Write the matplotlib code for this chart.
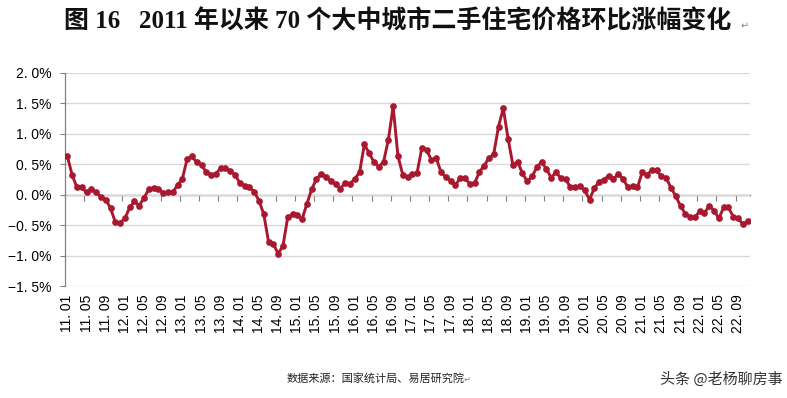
import matplotlib
matplotlib.use("Agg")
import matplotlib.pyplot as plt
import numpy as np

# ---- data -------------------------------------------------------------
mom_change = [
    0.63, 0.32, 0.12, 0.12, 0.04, 0.09, 0.04, -0.04, -0.08, -0.22, -0.45, -0.46,
    -0.39, -0.21, -0.11, -0.18, -0.05, 0.09, 0.11, 0.10, 0.03, 0.04, 0.04, 0.16,
    0.26, 0.59, 0.63, 0.53, 0.49, 0.37, 0.33, 0.34, 0.44, 0.44, 0.39, 0.33,
    0.19, 0.15, 0.12, 0.05, -0.10, -0.32, -0.78, -0.81, -0.97, -0.84, -0.37, -0.32,
    -0.34, -0.40, -0.15, 0.09, 0.26, 0.34, 0.29, 0.23, 0.18, 0.10, 0.20, 0.18,
    0.26, 0.37, 0.83, 0.68, 0.54, 0.46, 0.54, 0.90, 1.45, 0.64, 0.33, 0.29,
    0.34, 0.36, 0.77, 0.73, 0.57, 0.60, 0.37, 0.29, 0.23, 0.16, 0.27, 0.27,
    0.18, 0.19, 0.37, 0.48, 0.60, 0.67, 1.12, 1.42, 0.92, 0.49, 0.54, 0.35,
    0.22, 0.30, 0.45, 0.54, 0.42, 0.28, 0.37, 0.27, 0.26, 0.12, 0.12, 0.15,
    0.07, -0.08, 0.11, 0.21, 0.25, 0.31, 0.26, 0.34, 0.26, 0.12, 0.14, 0.12,
    0.37, 0.33, 0.40, 0.40, 0.30, 0.28, 0.11, -0.02, -0.19, -0.31, -0.37, -0.37,
    -0.27, -0.30, -0.18, -0.26, -0.39, -0.21, -0.21, -0.36, -0.39, -0.48, -0.44,
]

x_tick_labels = [
    "11. 01", "11. 05", "11. 09", "12. 01", "12. 05", "12. 09",
    "13. 01", "13. 05", "13. 09", "14. 01", "14. 05", "14. 09",
    "15. 01", "15. 05", "15. 09", "16. 01", "16. 05", "16. 09",
    "17. 01", "17. 05", "17. 09", "18. 01", "18. 05", "18. 09",
    "19. 01", "19. 05", "19. 09", "20. 01", "20. 05", "20. 09",
    "21. 01", "21. 05", "21. 09", "22. 01", "22. 05", "22. 09",
]
y_ticks = [-1.5, -1.0, -0.5, 0.0, 0.5, 1.0, 1.5, 2.0]
y_tick_labels = ["−1. 5%", "−1. 0%", "−0. 5%", "0. 0%", "0. 5%", "1. 0%", "1. 5%", "2. 0%"]

title = "图 16   2011 年以来 70 个大中城市二手住宅价格环比涨幅变化"
source = "数据来源：国家统计局、易居研究院"
watermark = "头条 @老杨聊房事"

# ---- figure -----------------------------------------------------------
W, H = 787, 398
fig = plt.figure(figsize=(W / 100, H / 100), dpi=100)
fig.patch.set_facecolor("white")

left, right, top, bottom = 65, 750, 73, 286
ax = fig.add_axes([left / W, 1 - bottom / H, (right - left) / W, (bottom - top) / H])

n = len(mom_change)
x = np.arange(n)
line_color = "#A8182F"
ax.plot(x, mom_change, color=line_color, lw=2.1, marker="o", ms=3.8,
        mec=line_color, mfc=line_color, zorder=4, solid_joinstyle="round")

ax.set_xlim(-0.5, n - 0.5)
ax.set_ylim(-1.5, 2.0)

# y axis
ax.set_yticks(y_ticks)
ax.set_yticklabels(y_tick_labels, family=["Liberation Sans", "DejaVu Sans"], fontsize=10)
ax.tick_params(axis="y", direction="out", length=3.5, width=0.8, color="#808080", pad=6)
ax.yaxis.grid(True, color="#D9D9D9", lw=1.0)
ax.set_axisbelow(True)

# x tick labels at bottom (positions every 4 months)
ax.set_xticks(x[::4])
ax.set_xticklabels(x_tick_labels, rotation=90, family=["Liberation Sans", "DejaVu Sans"],
                   fontsize=10, va="top")
ax.tick_params(axis="x", length=0, pad=6)

for s in ["top", "right", "bottom"]:
    ax.spines[s].set_visible(False)
ax.spines["left"].set_color("#808080")
ax.spines["left"].set_linewidth(0.9)

# zero axis line with tick marks between categories
zero_frac = (0 - (-1.5)) / (2.0 - (-1.5))
sec = ax.secondary_xaxis(zero_frac)
sec.set_xticks(np.arange(3.5, n - 0.5, 4))
sec.set_xticklabels([])
sec.tick_params(axis="x", direction="out", length=4, width=0.8, color="#808080")
sec.spines["bottom"].set_color("#808080")
sec.spines["bottom"].set_linewidth(1.0)

# ---- texts ------------------------------------------------------------
fig.text(0.505, 1 - 21 / H, title, ha="center", va="center", fontsize=18,
         family=["Liberation Serif", "Noto Sans CJK SC"], weight="bold", color="#111111")
fig.text(741 / W, 1 - 26 / H, "↵", ha="left", va="center", fontsize=7,
         family=["DejaVu Sans"], color="#888888")

fig.text(376 / W, 1 - 378 / H, source, ha="center", va="center", fontsize=8,
         family=["Noto Sans CJK SC", "DejaVu Sans"], color="#222222")
fig.text(464 / W, 1 - 379 / H, "↵", ha="left", va="center", fontsize=6,
         family=["DejaVu Sans"], color="#888888")

fig.text(783 / W, 1 - 379 / H, watermark, ha="right", va="center", fontsize=10.8,
         family=["Noto Sans CJK SC", "DejaVu Sans"], color="#333333")

fig.savefig("out.png", dpi=100, facecolor="white")
